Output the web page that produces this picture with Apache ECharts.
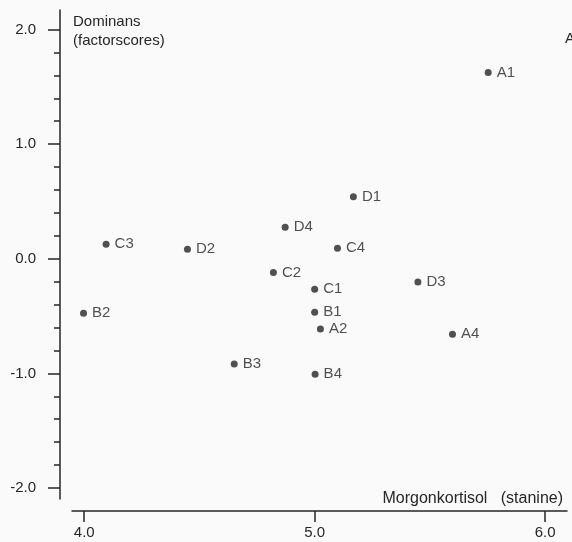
<!DOCTYPE html>
<html>
<head>
<meta charset="utf-8">
<script src="https://cdn.jsdelivr.net/npm/echarts@6/dist/echarts.min.js"></script>
<style>
  html, body { margin: 0; padding: 0; background: #fafafa; }
  #chartDiv { width: 572px; height: 542px; }
</style>
</head>
<body>
<div id="chartDiv"></div>
<script>
// point names and their scores (morning cortisol stanine, dominance factor score)
var pointNames = ['A1', 'D1', 'D4', 'C3', 'D2', 'C4', 'C2', 'D3', 'C1', 'B1', 'B2', 'A2', 'A4', 'B3', 'B4'];
var cortisol   = [5.753, 5.168, 4.872, 4.095, 4.448, 5.099, 4.821, 5.448, 5.0, 5.0, 3.997, 5.025, 5.598, 4.651, 5.002];
var dominans   = [1.625, 0.54, 0.274, 0.126, 0.082, 0.091, -0.119, -0.203, -0.267, -0.467, -0.476, -0.613, -0.659, -0.918, -1.008];

var xTicks = [4.0, 5.0, 6.0];
var yTicks = [-2.0, -1.0, 0.0, 1.0, 2.0];
var yMinorTicks = [-2.0, -1.8, -1.6, -1.4, -1.2, -1.0, -0.8, -0.6, -0.4, -0.2, 0.0,
                   0.2, 0.4, 0.6, 0.8, 1.0, 1.2, 1.4, 1.6, 1.8, 2.0];

function DRAW_CHART(){
    var chart = echarts.init(document.getElementById('chartDiv'));

    var ink = '#262626';
    var font = 'Liberation Sans, Arial, sans-serif';

    var data = [];
    for (var i = 0; i < pointNames.length; i++) {
        data.push({ name: pointNames[i], value: [cortisol[i], dominans[i]] });
    }

    var opts = {
        backgroundColor: '#fafafa',
        animation: false,
        title: [
            {
                text: 'Dominans\n(factorscores)',
                left: 68,
                top: 7,
                textStyle: { color: ink, fontSize: 15, fontWeight: 'normal', fontFamily: font, lineHeight: 19 }
            },
            {
                text: 'Morgonkortisol   (stanine)',
                right: 4,
                top: 486,
                textStyle: { color: ink, fontSize: 16, fontWeight: 'normal', fontFamily: font }
            }
        ],
        graphic: [
            {   // cut-off label at the right edge of the scan
                type: 'text',
                left: 565,
                top: 31,
                style: { text: 'A', fill: ink, fontSize: 15, fontFamily: font }
            }
        ],
        grid: {
            left: 72,
            right: 5,
            top: 10,
            bottom: 43
        },
        xAxis: {
            type: 'value',
            min: 3.947,
            max: 6.095,
            offset: 12,
            splitLine: { show: false },
            axisLine: { show: true, onZero: false, lineStyle: { color: ink, width: 1.5 } },
            axisTick: { show: true, customValues: xTicks, length: 11, lineStyle: { color: ink, width: 1.5 } },
            axisLabel: {
                customValues: xTicks,
                margin: 14,
                color: ink,
                fontSize: 15,
                fontFamily: font,
                formatter: function (v) { return v.toFixed(1); }
            }
        },
        yAxis: [
            {
                type: 'value',
                min: -2.096,
                max: 2.17,
                offset: 12,
                splitLine: { show: false },
                axisLine: { show: true, onZero: false, lineStyle: { color: ink, width: 1.5 } },
                axisTick: { show: true, customValues: yTicks, length: 12, lineStyle: { color: ink, width: 1.5 } },
                axisLabel: {
                    customValues: yTicks,
                    margin: 24,
                    color: ink,
                    fontSize: 15,
                    fontFamily: font,
                    formatter: function (v) { return v.toFixed(1); }
                }
            },
            {   // minor ticks
                type: 'value',
                position: 'left',
                min: -2.096,
                max: 2.17,
                offset: 12,
                splitLine: { show: false },
                axisLine: { show: false, onZero: false },
                axisTick: { show: true, customValues: yMinorTicks, length: 6, lineStyle: { color: ink, width: 1.5 } },
                axisLabel: { show: false }
            }
        ],
        series: [
            {
                type: 'scatter',
                symbol: 'circle',
                symbolSize: 7,
                itemStyle: { color: ink },
                label: {
                    show: true,
                    position: 'right',
                    distance: 5,
                    color: ink,
                    fontSize: 15,
                    fontFamily: font,
                    formatter: '{b}'
                },
                data: data
            }
        ]
    };

    chart.setOption(opts);
}

DRAW_CHART();
</script>
</body>
</html>
